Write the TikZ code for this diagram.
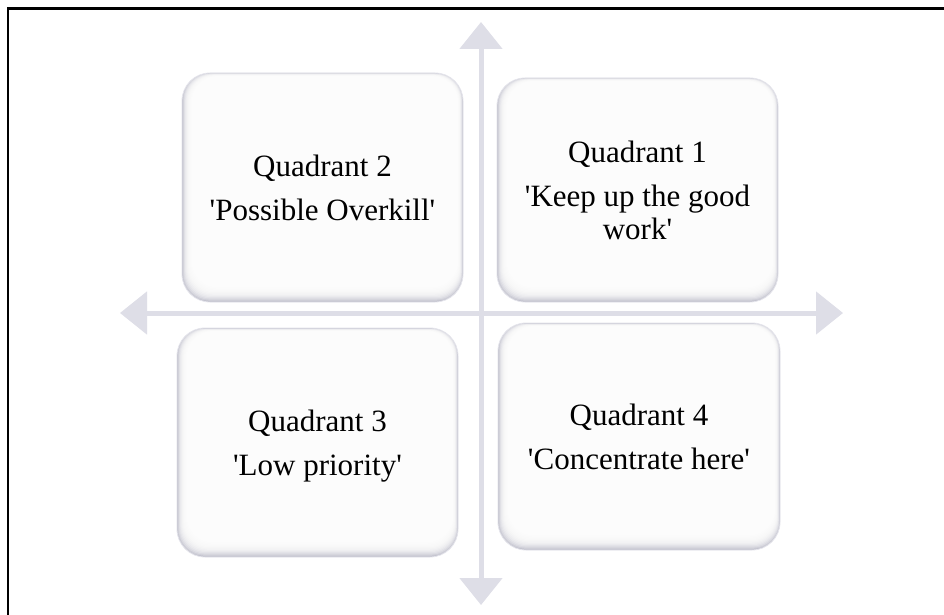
\documentclass[tikz,border=0pt]{standalone}
\usepackage{fontspec}
\setmainfont{Liberation Serif}
\usetikzlibrary{arrows.meta}
\newcommand\sq{\XeTeXglyph\XeTeXglyphindex "quotesingle"\relax}
\definecolor{axiscol}{RGB}{222,222,231}
\definecolor{boxedge}{RGB}{228,228,235}
\definecolor{boxshade}{RGB}{190,190,202}
\tikzset{
  axis/.style={draw=axiscol, line width=5pt,
    {Triangle[width=42pt,length=27pt]}-{Triangle[width=42pt,length=27pt]}},
  quadbox/.style={rounded corners=28pt, draw=boxedge, line width=0.8pt,
    fill=boxshade, align=center, inner sep=0pt,
    minimum width=281pt, minimum height=229pt,
    font={\fontsize{31}{33}\selectfont},
    path picture={
      \foreach \i in {1,...,14}{
        \fill[white, opacity=0.25, rounded corners=26pt]
          ([xshift={\i*0.8pt}, yshift={\i*1.2pt}]path picture bounding box.south west)
          rectangle
          ([xshift={-\i*0.4pt}, yshift={-\i*0.25pt}]path picture bounding box.north east);
      }
    }},
  frameline/.style={line width=2.7pt, line cap=rect}
}
\begin{document}
\begin{tikzpicture}[x=1pt, y=-1pt]
  \path[use as bounding box, fill=white] (0,0) rectangle (944,615);
  \draw[frameline] (8,620) -- (8,8.5) -- (950,8.5);
  % axes
  \coordinate (vt) at (481,22);
  \coordinate (vb) at (481,605);
  \coordinate (hl) at (120,313);
  \coordinate (hr) at (843,313);
  \draw[axis] (hl) -- (hr);
  \draw[axis] (vb) -- (vt);
  % quadrants
  \node[quadbox, minimum width=281pt, minimum height=229pt] (q2) at (322.5,187.5)
    {Quadrant 2\\[11pt]\sq Possible Overkill\sq};
  \node[quadbox, minimum width=281pt, minimum height=224pt] (q1) at (637.5,190)
    {Quadrant 1\\[11pt]\sq Keep up the good\\work\sq};
  \node[quadbox, minimum width=281pt, minimum height=229pt] (q3) at (317.5,442.5)
    {Quadrant 3\\[11pt]\raisebox{0pt}[\height][0pt]{\sq Low priority\sq}};
  \node[quadbox, minimum width=282pt, minimum height=227pt] (q4) at (639,436.5)
    {Quadrant 4\\[11pt]\sq Concentrate here\sq};
\end{tikzpicture}
\end{document}
